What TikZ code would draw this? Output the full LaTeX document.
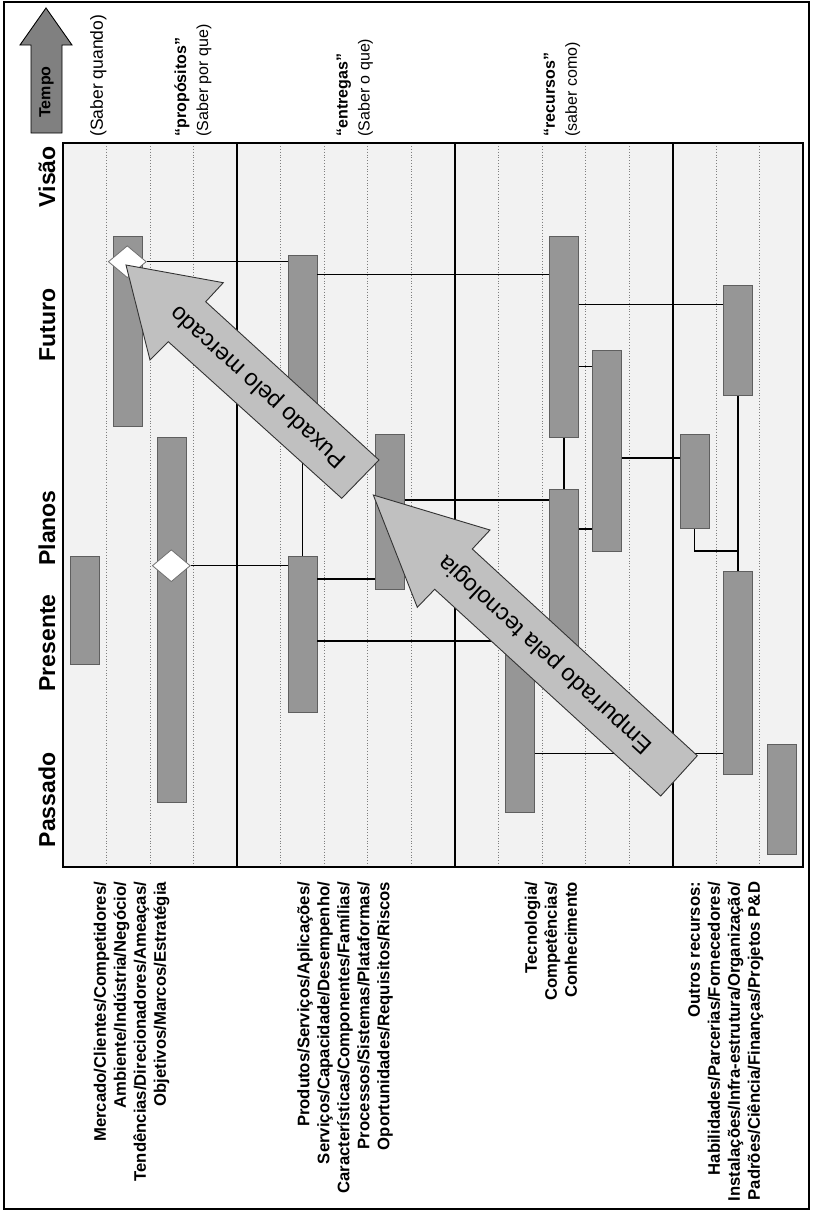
\documentclass[tikz,border=0pt]{standalone}
\usepackage{fontspec}
\setmainfont{Liberation Sans}
\usetikzlibrary{shapes.geometric}
\definecolor{panel}{HTML}{F2F2F2}
\definecolor{barfill}{HTML}{969696}
\definecolor{barline}{HTML}{5F5F5F}
\definecolor{arrowfill}{HTML}{C0C0C0}
\definecolor{gridgray}{HTML}{7F7F7F}
\definecolor{tempofill}{HTML}{808080}
\definecolor{diaedge}{HTML}{707070}
\begin{document}
\begin{tikzpicture}[x=1pt,y=-1pt,
  bar/.style={draw=barline, fill=barfill, line width=0.9pt, minimum width=29pt, inner sep=0pt, anchor=north},
  ms/.style={draw=diaedge, fill=white, shape=diamond, aspect=1.19, minimum width=38pt, minimum height=32pt, inner sep=0pt, line width=0.8pt},
  link/.style={line width=1.4pt, draw=black},
  sub/.style={draw=gridgray, line width=0.8pt, dotted},
  layer/.style={line width=2pt, draw=black},
  phase/.style={font=\fontsize{23}{26}\selectfont\bfseries, rotate=90, anchor=base, inner sep=0pt},
  toptext/.style={font=\fontsize{16}{22}\selectfont, rotate=90, anchor=west, inner sep=0pt, align=left},
  sidetext/.style={font=\fontsize{16.7}{20}\selectfont\bfseries, rotate=90, anchor=east, inner sep=0pt, align=right},
  bigarrow/.style={fill=arrowfill, draw=black!80, line width=0.9pt, line join=miter},
  arrowtext/.style={font=\fontsize{23.5}{26}\selectfont, inner sep=0pt}
]
\useasboundingbox (0,0) rectangle (812,1211);

% outer frame
\draw[line width=1.2pt] (4,2) rectangle (809,1209);

% roadmap panel and its sub-columns
\fill[panel] (63,143.3) rectangle (803.3,867);
\foreach \k in {1,2,3,5,6,7,8,10,11,12,13,15,16}
  \draw[sub] ({63+43.55*\k},143.3) -- ({63+43.55*\k},867);
\foreach \k in {4,9,14}
  \draw[layer] ({63+43.55*\k},143.3) -- ({63+43.55*\k},867);
\draw[line width=2.2pt] (63,143.3) rectangle (803.3,867);

% time axis arrow and headings
\draw[fill=tempofill, line width=0.9pt] (46,8) -- (72,45) -- (62,45) -- (62,133) -- (31,133) -- (31,45) -- (20,45) -- cycle;
\node[rotate=90, font=\fontsize{16}{18}\selectfont\bfseries, inner sep=0pt] (tempo) at (46.5,92) {Tempo};
\node[toptext, font=\fontsize{17.5}{22}\selectfont] (when) at (98.4,136.7) {(Saber quando)};
\node[toptext] (why) at (193,136.7) {{\bfseries “propósitos”}\\(Saber por que)};
\node[toptext] (what) at (354.8,136.7) {{\bfseries “entregas”}\\(Saber o que)};
\node[toptext] (how) at (562.1,136.7) {{\bfseries “recursos”}\\(saber como)};

% phases
\node[phase] (vis) at (55,176.7) {Visão};
\node[phase] (fut) at (55,325) {Futuro};
\node[phase] (pla) at (55,528) {Planos};
\node[phase] (pre) at (55,643) {Presente};
\node[phase] (pas) at (55,800) {Passado};

% layer descriptions
\node[sidetext] (l1) at (131.7,881.7) {Mercado/Clientes/Competidores/\\Ambiente/Indústria/Negócio/\\Tendências/Direcionadores/Ameaças/\\Objetivos/Marcos/Estratégia};
\node[sidetext] (l2) at (345,881.7) {Produtos/Serviços/Aplicações/\\Serviços/Capacidade/Desempenho/\\Características/Componentes/Famílias/\\Processos/Sistemas/Plataformas/\\Oportunidades/Requisitos/Riscos};
\node[sidetext] (l3) at (550.8,881.7) {Tecnologia/\\Competências/\\Conhecimento};
\node[sidetext] (l4) at (725.8,881.7) {Outros recursos:\\Habilidades/Parcerias/Fornecedores/\\Instalações/Infra-estrutura/Organização/\\Padrões/Ciência/Finanças/Projetos P\&D};

% bars
\node[bar, minimum height=190pt]   (A) at (128.3,235.7) {};
\node[bar, minimum height=108.3pt] (J) at (84.8,555.7) {};
\node[bar, minimum height=365pt]   (C) at (171.9,437.3) {};
\node[bar, minimum height=185pt]   (B) at (302.5,255) {};
\node[bar, minimum height=156pt]   (K) at (302.5,555.7) {};
\node[bar, minimum height=155.6pt] (D) at (389.6,433.7) {};
\node[bar, minimum height=201.3pt] (E) at (563.8,235.7) {};
\node[bar, minimum height=181pt]   (F) at (563.8,489) {};
\node[bar, minimum height=181.7pt] (L) at (520.3,630) {};
\node[bar, minimum height=201.6pt] (H) at (607.4,349.7) {};
\node[bar, minimum height=110.6pt] (G) at (738,284.7) {};
\node[bar, minimum height=94pt]    (I) at (694.5,434.3) {};
\node[bar, minimum height=203.3pt] (M) at (738,570.7) {};
\node[bar, minimum height=110pt]   (N) at (781.6,744.3) {};

% milestones
\node[ms] (d1) at (127.3,261.7) {};
\node[ms] (d2) at (171.3,565.7) {};

% links between bars
\coordinate (p2) at ([yshift=-19.3pt]B.north east);
\coordinate (p3) at ([yshift=-68.6pt]E.north east);
\coordinate (p4) at ([yshift=-131pt]E.north east);
\coordinate (p7) at ([yshift=-108.3pt]H.north east);
\coordinate (p8) at ([yshift=-66.3pt]D.north east);
\coordinate (p9) at ([yshift=-40pt]F.north east);
\coordinate (p13) at ([yshift=-23.3pt]K.north east);
\coordinate (p14) at ([yshift=-85.3pt]K.north east);
\coordinate (p15) at ([yshift=-123.3pt]L.north east);
\draw[link] (d1.east) -- (d1.east -| B.west);
\draw[link] (p2) -- (p2 -| E.west);
\draw[link] (p3) -- (p3 -| G.west);
\draw[link] (p4) -- (p4 -| H.west);
\draw[link] (E.south) -- (F.north);
\draw[link] (G.south) -- (M.north);
\draw[link] (p7) -- (p7 -| I.west);
\draw[link] (p8) -- (p8 -| F.west);
\draw[link] (p9) -- (p9 -| H.west);
\draw[link] (I.south) -- ++(0,21.7) -| (M.north);
\draw[link] (d2.east) -- (d2.east -| K.west);
\draw[link] (B.south) -- (K.north);
\draw[link] (p13) -- (p13 -| D.west);
\draw[link] (p14) -- (p14 -| L.west);
\draw[link] (p15) -- (p15 -| M.west);

% market pull and technology push
\draw[bigarrow] (126,265) -- (223.3,282.7) -- (205.7,301.7) -- (379,460) -- (341.7,498.3) -- (168.3,341.7) -- (150,360) -- cycle;
\node[arrowtext, rotate=137.6] (pull) at (258.8,386.3) {Puxado pelo mercado};
\draw[bigarrow] (373.3,495) -- (490,530) -- (472.3,549) -- (697.3,755.7) -- (660.7,796) -- (434.7,589.3) -- (417.3,607.3) -- cycle;
\node[arrowtext, rotate=137.4] (push) at (546.3,654) {Empurrado pela tecnologia};
\end{tikzpicture}
\end{document}
